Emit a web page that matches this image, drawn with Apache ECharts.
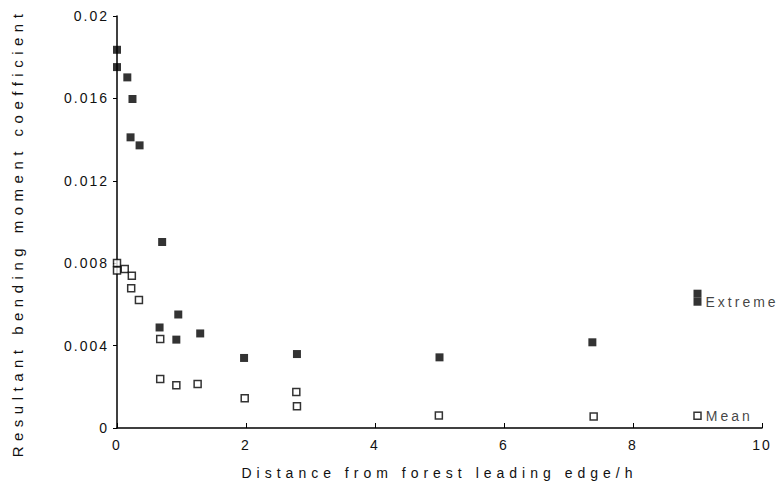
<!DOCTYPE html>
<html>
<head>
<meta charset="utf-8">
<script src="https://cdn.jsdelivr.net/npm/echarts@6/dist/echarts.min.js"></script>
<style>
  html, body { margin: 0; padding: 0; background: #fff; }
  #chart { width: 784px; height: 491px; }
</style>
</head>
<body>
<div id="chart"></div>
<script>
// series names (also used as the in-plot labels)
const seriesNames = ['Extreme', 'Mean'];

// extreme values (filled squares)
const extremeX = [0, 0, 0.16, 0.24, 0.21, 0.35, 0.70, 0.66, 0.95, 0.92, 1.29, 1.97, 2.79, 5.0, 7.37, 9.0, 9.0];
const extremeY = [0.01836, 0.01752, 0.01702, 0.01597, 0.01411, 0.01372, 0.00903, 0.00488, 0.00551, 0.00429, 0.00459, 0.0034, 0.00359, 0.00343, 0.00416, 0.00652, 0.00613];

// mean values (open squares)
const meanX = [0, 0, 0.12, 0.23, 0.22, 0.34, 0.67, 0.67, 0.92, 1.25, 1.98, 2.78, 2.79, 4.99, 7.39, 9.0];
const meanY = [0.00801, 0.00765, 0.00772, 0.00739, 0.00678, 0.00621, 0.00432, 0.00238, 0.00207, 0.00214, 0.00144, 0.00175, 0.00105, 0.00061, 0.00056, 0.0006];

// axis ticks
const xTicks = [0, 2, 4, 6, 8, 10];
const yTicks = ['0', '0.004', '0.008', '0.012', '0.016', '0.02'];

const xName = 'Distance from forest leading edge/h';
const yName = 'Resultant bending moment coefficient';

const font = '"Liberation Sans", Arial, sans-serif';

// the last point of each series carries the series label
function toData(xs, ys, name) {
    return xs.map((x, i) => {
        const item = { value: [x, ys[i]] };
        if (i === xs.length - 1) {
            item.label = {
                show: true, position: 'right', distance: 4,
                formatter: name, color: '#111', fontSize: 14, fontFamily: font
            };
        }
        return item;
    });
}

let myChart = echarts.init(document.getElementById('chart'), null, { renderer: 'svg' });
myChart.setOption({
    animation: false,
    grid: { left: 117, right: 22, top: 16, bottom: 63 },
    xAxis: {
        type: 'value',
        min: xTicks[0], max: xTicks[xTicks.length - 1], interval: 2,
        name: xName,
        nameLocation: 'middle', nameGap: 38,
        nameTextStyle: { color: '#111', fontSize: 14, fontFamily: font },
        axisLine: { lineStyle: { color: '#000', width: 1.5 } },
        axisTick: { inside: true, length: 5, lineStyle: { color: '#000' } },
        axisLabel: { color: '#111', fontSize: 14, fontFamily: font, margin: 10 },
        splitLine: { show: false }
    },
    yAxis: {
        type: 'value',
        min: 0, max: 0.02, interval: 0.004,
        name: yName,
        nameLocation: 'middle', nameGap: 92,
        nameTextStyle: { color: '#111', fontSize: 15, fontFamily: font, padding: [0, 22, 0, 0] },
        axisLine: { show: true, lineStyle: { color: '#000', width: 1.5 } },
        axisTick: { show: true, length: 4, lineStyle: { color: '#000' } },
        axisLabel: {
            color: '#111', fontSize: 14, fontFamily: font, margin: 8,
            formatter: v => yTicks[Math.round(v / 0.004)]
        },
        splitLine: { show: false }
    },
    series: [
        {
            name: seriesNames[0],
            type: 'scatter',
            symbol: 'rect',
            symbolSize: 8,
            itemStyle: { color: '#000' },
            data: toData(extremeX, extremeY, seriesNames[0])
        },
        {
            name: seriesNames[1],
            type: 'scatter',
            symbol: 'rect',
            symbolSize: 7,
            itemStyle: { color: '#fff', borderColor: '#000', borderWidth: 1.5 },
            data: toData(meanX, meanY, seriesNames[1])
        }
    ]
});

// the original typesetting is widely tracked
function spaceText() {
    document.querySelectorAll('#chart svg text').forEach(t => {
        const s = t.textContent;
        let ls = '3px';
        if (/^[\d.]+$/.test(s)) ls = '2px';
        else if (s === xName) ls = '5px';
        else if (s === yName) ls = '5.5px';
        t.style.letterSpacing = ls;
    });
}
myChart.on('finished', spaceText);
setTimeout(spaceText, 50);
</script>
</body>
</html>
